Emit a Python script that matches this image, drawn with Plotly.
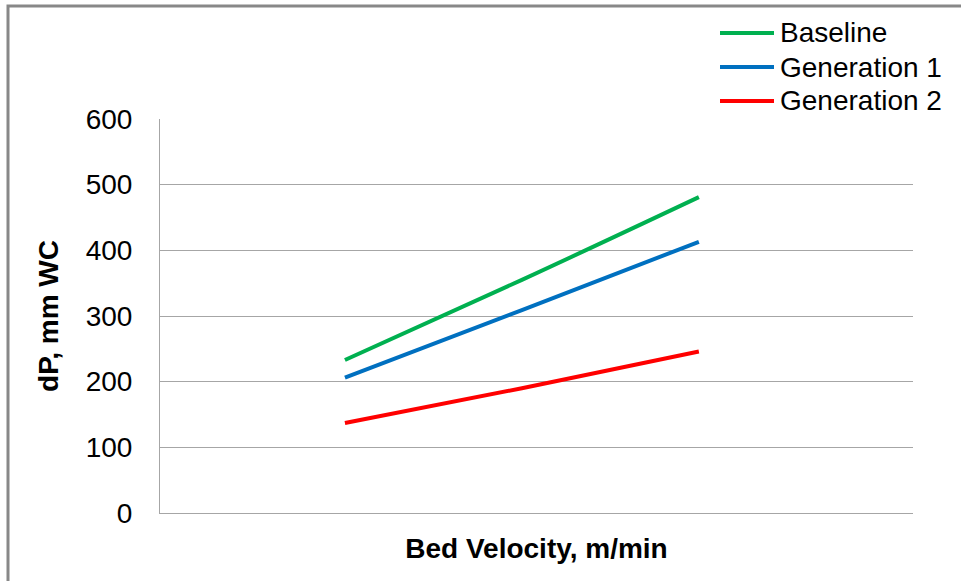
import plotly.graph_objects as go

# Bed velocity (m/min) at the three test points
bed_velocity = [1.5, 2.5, 3.5]

# Pressure drop, mm WC
baseline = [233, 355, 481]
generation_1 = [206, 309, 413]
generation_2 = [137, 190, 246]

series_names = ["Baseline", "Generation 1", "Generation 2"]
series_colors = ["#00B050", "#0070C0", "#FF0000"]
y_ticks = [0, 100, 200, 300, 400, 500, 600]

FONT = "Liberation Sans, Arial, sans-serif"
FS = 28
GRID = "#A6A6A6"

# plot-area geometry in pixels (used to place the legend key in paper units)
PL, PR, PT, PB = 160, 913, 119, 513


def px_x(p):
    return (p - PL) / (PR - PL)


def px_y(p):
    return (PB - p) / (PB - PT)


fig = go.Figure()
for name, vals, col in zip(series_names,
                           [baseline, generation_1, generation_2],
                           series_colors):
    fig.add_trace(go.Scatter(
        x=bed_velocity, y=vals, name=name, mode="lines",
        line=dict(color=col, width=4, shape="spline"),
        showlegend=False,
    ))

# legend key: short coloured line followed by the series name
shapes = []
annotations = []
for i, (name, col) in enumerate(zip(series_names, series_colors)):
    yy = px_y(33 + 34 * i)
    shapes.append(dict(type="line", xref="paper", yref="paper",
                       x0=px_x(720), x1=px_x(774), y0=yy, y1=yy,
                       line=dict(color=col, width=4)))
    annotations.append(dict(xref="paper", yref="paper", x=px_x(778), y=yy,
                            xanchor="left", yanchor="middle", showarrow=False,
                            text=name, font=dict(family=FONT, size=FS, color="black")))

# outer chart frame
shapes.append(dict(
    type="rect", xref="paper", yref="paper",
    x0=px_x(8), x1=1.2, y0=-0.5, y1=px_y(6),
    line=dict(color="#888888", width=3), fillcolor="rgba(0,0,0,0)",
    layer="below",
))

fig.update_layout(
    width=961, height=581,
    margin=dict(l=PL, r=961 - PR, t=PT, b=581 - PB),
    paper_bgcolor="white", plot_bgcolor="white",
    font=dict(family=FONT, size=FS, color="black"),
    showlegend=False,
    xaxis=dict(
        range=[0.455, 4.71],
        showticklabels=False, showgrid=False, zeroline=False,
        showline=True, linecolor=GRID, linewidth=1, ticks="",
        title=dict(text="<b>Bed Velocity, m/min</b>", standoff=25,
                   font=dict(family=FONT, size=FS)),
    ),
    yaxis=dict(
        range=[0, 600], tickvals=y_ticks,
        showgrid=True, gridcolor=GRID, gridwidth=1, zeroline=False,
        showline=True, linecolor=GRID, linewidth=1, ticks="",
        ticklabelstandoff=21,
        tickfont=dict(family=FONT, size=FS),
        title=dict(text="<b>dP, mm WC</b>", standoff=18,
                   font=dict(family=FONT, size=FS)),
    ),
    shapes=shapes,
    annotations=annotations,
)

fig.write_html("out.html")
